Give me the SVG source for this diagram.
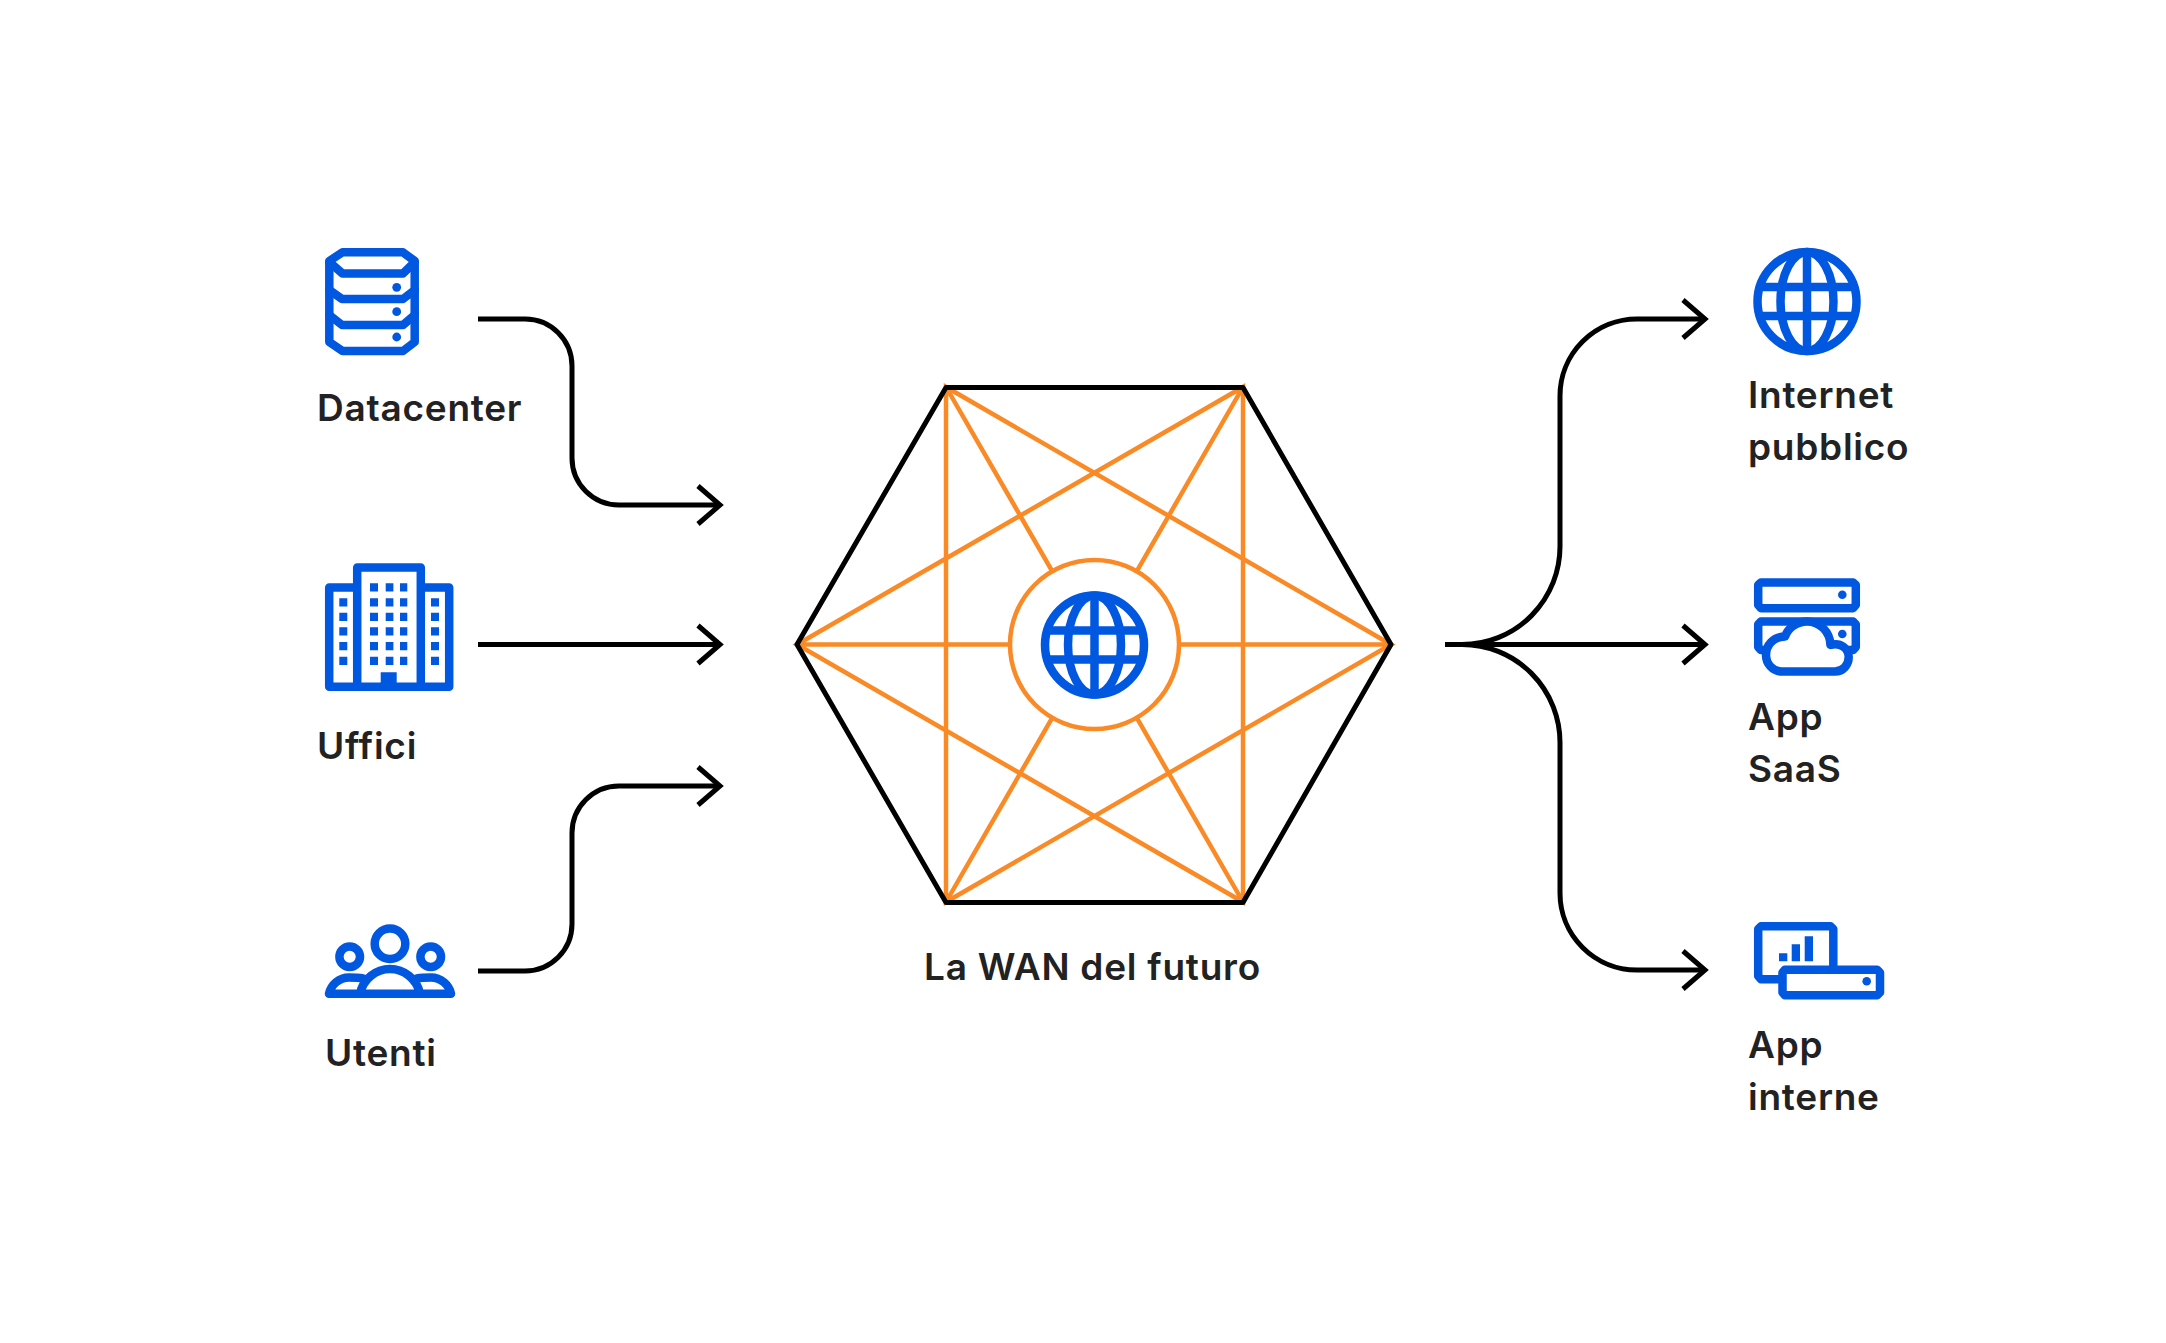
<svg xmlns="http://www.w3.org/2000/svg" width="2166" height="1343" viewBox="0 0 2166 1343">
<style>
.t{font-family:Inter,"Liberation Sans",sans-serif;font-size:37px;font-weight:600;fill:#222;letter-spacing:.75px}
.k{fill:none;stroke:#000;stroke-width:5}
.o{fill:none;stroke:#f98a26;stroke-width:4.500}
.b{fill:none;stroke:#0057e0;stroke-width:8.500;stroke-linejoin:round;stroke-linecap:round}
.f{fill:#0057e0}
</style>
<defs>
<g id="globe"><circle class="b" r="49.500"/><ellipse class="b" rx="26.500" ry="49.500"/><path class="b" style="stroke-linecap:butt" d="M0-49V49M-47-14.500H47M-47 14.500H47"/></g>
<g id="ah"><path class="k" d="M-22-19L0 0L-22 19"/></g>
</defs>
<g id="connectors">
<path class="k" d="M478 319H525A47 47 0 0 1 572 366V458A47 47 0 0 0 619 505H720"/><use href="#ah" x="720" y="505"/>
<path class="k" d="M478 644.500H720"/><use href="#ah" x="720" y="644.500"/>
<path class="k" d="M478 971H525A47 47 0 0 0 572 924V833A47 47 0 0 1 619 786H720"/><use href="#ah" x="720" y="786"/>
<path class="k" d="M1445 644.500H1705"/><use href="#ah" x="1705" y="644.500"/>
<path class="k" d="M1445 644.500H1462A98 98 0 0 0 1560 546V396A77 77 0 0 1 1637 319H1705"/><use href="#ah" x="1705" y="319"/>
<path class="k" d="M1445 644.500H1462A98 98 0 0 1 1560 743V893A77 77 0 0 0 1637 970H1705"/><use href="#ah" x="1705" y="970"/>
</g>
<g id="wan">
<path class="o" d="M797 644.500H1391M946 387L1243 902M1243 387L946 902M797 644.500L1243 387V902ZM1391 644.500L946 387V902Z"/>
<circle class="o" cx="1094.500" cy="644.500" r="84.500" style="fill:#fff"/>
<path d="M797 644.500L946 387.500H1243L1391 644.500L1243 902.500H946Z" fill="none" stroke="#000" stroke-width="5" stroke-linejoin="round"/>
<use href="#globe" x="1094.500" y="645"/>
<text class="t" x="924" y="980">La WAN del futuro</text>
</g>
<g id="datacenter">
<path class="b" d="M342.500 252.300H403L414.700 261V342L403 351H342.500L329.300 342V261Z"/>
<path class="b" d="M329.300 262L342.500 273.500H403L414.700 262M329.300 290L342 299H403L414.700 290M329.300 315L342 325H403L414.700 315"/>
<circle class="f" cx="396.700" cy="287.300" r="4.400"/><circle class="f" cx="396.700" cy="311.700" r="4.400"/><circle class="f" cx="396.700" cy="337" r="4.400"/>
<text class="t" x="317" y="421">Datacenter</text>
</g>
<g id="uffici">
<path class="b" style="stroke-linecap:butt" d="M357.200 686.700V567.500H420.800V686.700M357.200 587.500H329.200V686.700H449.200V587.500H420.800"/>
<path class="f" d="M380.700 672.300h16v13h-16zM370 583.300h8v8.300h-8zM385.700 583.300h7.700v8.300h-7.700zM400 583.300h7.300v8.300h-7.300zM370 598.300h8v8.300h-8zM385.700 598.300h7.700v8.300h-7.700zM400 598.300h7.300v8.300h-7.300zM370 612.700h8v8.300h-8zM385.700 612.700h7.700v8.300h-7.700zM400 612.700h7.300v8.300h-7.300zM370 627.300h8v8.300h-8zM385.700 627.300h7.700v8.300h-7.700zM400 627.300h7.300v8.300h-7.300zM370 642h8v8.300h-8zM385.700 642h7.700v8.300h-7.700zM400 642h7.300v8.300h-7.300zM370 656.700h8v8.300h-8zM385.700 656.700h7.700v8.300h-7.700zM400 656.700h7.300v8.300h-7.300zM339.300 598.300h8v8.300h-8zM339.300 612.700h8v8.300h-8zM339.300 627.300h8v8.300h-8zM339.300 642h8v8.300h-8zM339.300 656.700h8v8.300h-8zM431 598.300h8v8.300h-8zM431 612.700h8v8.300h-8zM431 627.300h8v8.300h-8zM431 642h8v8.300h-8zM431 656.700h8v8.300h-8z"/>
<text class="t" x="317" y="759">Uffici</text>
</g>
<g id="utenti">
<circle class="b" cx="390" cy="943.700" r="15.300"/><circle class="b" cx="349.700" cy="956.700" r="10.300"/><circle class="b" cx="430.700" cy="956.700" r="10.300"/>
<path class="b" d="M360 993.700C363 979 376 969 390 969C404 969 417 979 420 993.700M329 993.700H451M329 993.700C331 985 339 977.500 349 977.500C354 977.500 358 977.500 363 978.500M451 993.700C449 985 441 977.500 431 977.500C426 977.500 422 977.500 417 978.500"/>
<text class="t" x="325" y="1066">Utenti</text>
</g>
<g id="internet">
<use href="#globe" x="1807" y="301.500"/>
<text class="t" x="1748" y="408">Internet</text><text class="t" x="1748" y="460">pubblico</text>
</g>
<g id="saas">
<path class="b" d="M1761 582.500H1853L1855.800 585V605L1853 608.200H1761L1758.200 605V585Z"/>
<path class="b" d="M1766 650H1761L1758.200 647V624.500L1761 621.500H1853L1855.800 624.500V647L1853 650H1848"/>
<circle class="f" cx="1842.300" cy="594.700" r="4.300"/>
<path class="b" style="fill:#fff" d="M1782 671.500C1772 671.500 1766 663 1766 655C1766 645 1773 637 1785 636.500C1788 628 1797 621.500 1807 621.500C1820 621.500 1830 632 1830.500 645C1841 642 1848.700 649 1848.700 657C1848.700 665 1843 671.500 1835 671.500Z"/>
<circle class="f" cx="1842.300" cy="634" r="4.300"/>
<text class="t" x="1748" y="730">App</text><text class="t" x="1748" y="782">SaaS</text>
</g>
<g id="interne">
<path class="b" d="M1782 979.300H1761L1758.200 976V929L1761 926.300H1830.500L1833.300 929V969"/>
<path class="b" d="M1785 969.700H1877L1880 972.500V992.500L1877 995.300H1785L1782.500 992.500V972.500Z"/>
<circle class="f" cx="1866.700" cy="981.300" r="4.300"/>
<path class="f" d="M1779 953.300h8.300v8h-8.300zM1791.700 944.300h8.300v17h-8.300zM1804.700 936.300h8.300v25h-8.300z"/>
<text class="t" x="1748" y="1058">App</text><text class="t" x="1748" y="1110">interne</text>
</g>
</svg>
